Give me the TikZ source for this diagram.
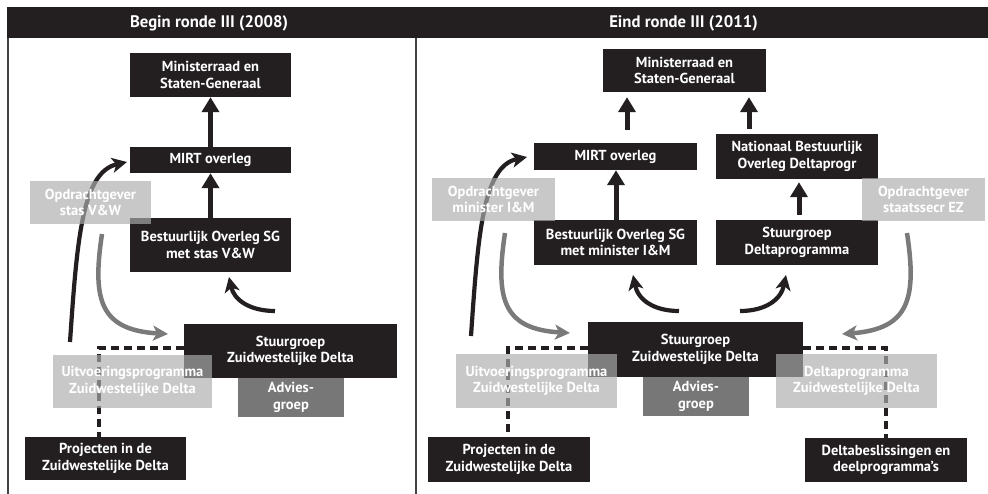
\documentclass[tikz,border=0pt]{standalone}
\usepackage{fontspec}
\setmainfont{PT Sans}
\usetikzlibrary{arrows.meta}
\definecolor{dk}{HTML}{231F20}
\definecolor{lg}{HTML}{ADADAD}
\definecolor{mg}{HTML}{777777}
\definecolor{ag}{HTML}{7A7A7A}
\tikzset{
  base/.style={inner sep=0pt, align=center, font=\bfseries\fontsize{14.5}{16.5}\selectfont, text=white},
  dbox/.style={base, fill=dk},
  gbox/.style={base, fill=lg, fill opacity=0.67, text opacity=1},
  abox/.style={base, fill=mg},
  titletext/.style={inner sep=0pt, text=white, font=\bfseries\fontsize{16.7}{18}\selectfont},
  sarrow/.style={line width=5pt, draw=dk, -{Triangle[length=15pt,width=17pt]}},
  carrow/.style={line width=4.2pt, draw=dk, -{Stealth[length=15pt,width=15pt,inset=4pt]}},
  garrow/.style={line width=4.5pt, draw=ag, -{Stealth[length=15pt,width=15pt,inset=4pt]}},
  dline/.style={line width=3.4pt, draw=dk, dash pattern=on 8pt off 5pt},
  frameline/.style={line width=1.2pt, draw=dk!85},
}
\begin{document}
\begin{tikzpicture}[x=1pt,y=-1pt]
\useasboundingbox (0,0) rectangle (988,494);
\fill[white] (0,0) rectangle (988,494);
% frame and titles
\fill[dk] (7,7) rectangle (988,38);
\coordinate (fl1) at (8,38);
\coordinate (fl2) at (8,494);
\coordinate (fd1) at (416,38);
\coordinate (fd2) at (416,494);
\draw[frameline] (fl1) -- (fl2);
\draw[frameline] (fd1) -- (fd2);
\node[titletext] (tL) at (209,23) {Begin ronde III (2008)};
\node[titletext] (tR) at (683.5,23) {Eind ronde III (2011)};

% ---------- left panel: dark boxes ----------
\node[dbox, minimum width=161pt, minimum height=44pt] (minL) at (210.5,75) {Ministerraad en\\Staten-Generaal};
\node[dbox, minimum width=161pt, minimum height=26pt] (mirtL) at (210.5,160) {MIRT overleg};
\node[dbox, minimum width=161pt, minimum height=54pt] (bolL) at (210.5,245) {Bestuurlijk Overleg SG\\met stas V\&W};
\node[dbox, minimum width=213pt, minimum height=54pt] (szwL) at (290.5,351) {Stuurgroep\\Zuidwestelijke Delta};
\node[dbox, minimum width=161pt, minimum height=43pt] (prjL) at (105.5,458.5) {Projecten in de\\Zuidwestelijke Delta};

% ---------- right panel: dark boxes ----------
\node[dbox, minimum width=163pt, minimum height=43pt] (minR) at (684.5,70.5) {Ministerraad en\\Staten-Generaal};
\node[dbox, minimum width=163pt, minimum height=27pt] (mirtR) at (615.5,156.5) {MIRT overleg};
\node[dbox, minimum width=163pt, minimum height=45pt] (bolR) at (615.5,242.5) {Bestuurlijk Overleg SG\\met minister I\&M};
\node[dbox, minimum width=162pt, minimum height=45pt] (nboR) at (797,156.5) {Nationaal Bestuurlijk\\Overleg Deltaprogr};
\node[dbox, minimum width=162pt, minimum height=45pt] (sdpR) at (797,242.5) {Stuurgroep\\Deltaprogramma};
\node[dbox, minimum width=215pt, minimum height=55pt] (szwR) at (695.5,349.5) {Stuurgroep\\Zuidwestelijke Delta};
\node[dbox, minimum width=162pt, minimum height=45pt] (prjR) at (509,459.5) {Projecten in de\\Zuidwestelijke Delta};
\node[dbox, minimum width=162pt, minimum height=44pt] (dblR) at (886,460) {Deltabeslissingen en\\deelprogramma's};

% ---------- dashed connectors ----------
\draw[dline] ([yshift=3pt]szwL.west) -| ([xshift=-6.5pt]prjL.north);
\draw[dline] ([yshift=1.5pt]szwR.west) -| ([xshift=-1pt]prjR.north);
\draw[dline] ([yshift=1.5pt]szwR.east) -| (dblR.north);

% ---------- straight arrows ----------
\draw[sarrow] (mirtL.north) -- (minL.south);
\draw[sarrow] (bolL.north) -- (mirtL.south);
\draw[sarrow, shorten <=13pt, shorten >=5pt] ([xshift=11.5pt]mirtR.north) -- ([xshift=-57.5pt]minR.south);
\draw[sarrow] ([xshift=0.5pt]bolR.north) -- ([xshift=0.5pt]mirtR.south);
\draw[sarrow, shorten <=5pt, shorten >=5pt] ([xshift=-48pt]nboR.north) -- ([xshift=64.5pt]minR.south);
\draw[sarrow, shorten <=5pt, shorten >=3pt] ([xshift=2pt]sdpR.north) -- ([xshift=2pt]nboR.south);

% ---------- curved arrows ----------
\coordinate (bL1s) at (70,342);
\coordinate (bL1e) at (127,162);
\coordinate (gL1s) at (102,234);
\coordinate (gL1e) at (168,334);
\coordinate (bL2s) at (275,311);
\coordinate (bL2e) at (229,277);
\draw[carrow] (bL1s) .. controls (77,240) and (82,172) .. (bL1e);
\draw[garrow] (gL1s) .. controls (92,300) and (100,330) .. (gL1e);
\draw[carrow] (bL2s) .. controls (250,311) and (234,300) .. (bL2e);

\coordinate (bR1s) at (471,336);
\coordinate (bR1e) at (527,157);
\coordinate (gR1s) at (505,233);
\coordinate (gR1e) at (570,333);
\coordinate (gR2s) at (907,233);
\coordinate (gR2e) at (842,334);
\coordinate (bR2s) at (679,311);
\coordinate (bR2e) at (633,275);
\coordinate (bR3s) at (740,311);
\coordinate (bR3e) at (786,275);
\draw[carrow] (bR1s) .. controls (478,234) and (483,166) .. (bR1e);
\draw[garrow] (gR1s) .. controls (495,299) and (503,329) .. (gR1e);
\draw[garrow] (gR2s) .. controls (917,299) and (909,329) .. (gR2e);
\draw[carrow] (bR2s) .. controls (654,311) and (638,300) .. (bR2e);
\draw[carrow] (bR3s) .. controls (765,311) and (781,300) .. (bR3e);

% ---------- translucent grey boxes ----------
\node[gbox, minimum width=121pt, minimum height=43pt] (opdL) at (90.5,202.5) {Opdrachtgever\\stas V\&W};
\node[gbox, minimum width=159pt, minimum height=53pt] (uitL) at (132.5,381.5) {Uitvoeringsprogramma\\Zuidwestelijke Delta};
\node[abox, minimum width=106pt, minimum height=39pt] (advL) at (291,397.5) {Advies-\\groep};

\node[gbox, minimum width=123pt, minimum height=43pt] (opdR1) at (493.5,199.5) {Opdrachtgever\\minister I\&M};
\node[gbox, minimum width=123pt, minimum height=43pt] (opdR2) at (923.5,199.5) {Opdrachtgever\\staatssecr EZ};
\node[gbox, minimum width=161pt, minimum height=54pt] (uitR) at (536.5,381) {Uitvoeringsprogramma\\Zuidwestelijke Delta};
\node[gbox, minimum width=161pt, minimum height=54pt] (dpzR) at (856.5,381) {Deltaprogramma\\Zuidwestelijke Delta};
\node[abox, minimum width=106pt, minimum height=39pt] (advR) at (696,396.5) {Advies-\\groep};
\end{tikzpicture}
\end{document}
